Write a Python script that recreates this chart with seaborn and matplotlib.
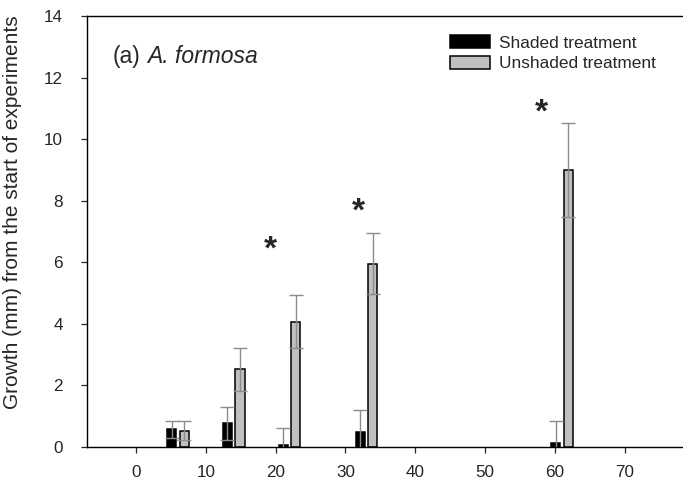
import matplotlib
matplotlib.use("Agg")
import matplotlib.pyplot as plt
import seaborn as sns
import pandas as pd
import numpy as np

# ---- data ----
days = [6, 14, 22, 33, 61]
shaded_mean = [0.58, 0.77, 0.05, 0.49, 0.13]
shaded_se = [0.28, 0.54, 0.57, 0.70, 0.72]
unshaded_mean = [0.53, 2.52, 4.07, 5.96, 8.99]
unshaded_se = [0.30, 0.69, 0.86, 1.00, 1.52]
treatments = ["Shaded treatment", "Unshaded treatment"]
star_x = [19.2, 31.8, 58.05]
star_y = [6.4, 7.63, 10.84]
x_ticks = [0, 10, 20, 30, 40, 50, 60, 70]
y_ticks = [0, 2, 4, 6, 8, 10, 12, 14]
title_text = "(a)"
title_species = "A. formosa"
y_label = "Growth (mm) from the start of experiments"

df = pd.DataFrame({
    "day": days * 2,
    "growth": shaded_mean + unshaded_mean,
    "treatment": [treatments[0]] * len(days) + [treatments[1]] * len(days),
})

sns.set_style("ticks")
plt.rcParams["font.family"] = ["Liberation Sans", "DejaVu Sans"]

fig = plt.figure(figsize=(6.83, 4.82), dpi=100)
W, H = 683, 482
ax = fig.add_axes([87 / W, (H - 447) / H, 607.8 / W, 431 / H])

sns.barplot(data=df, x="day", y="growth", hue="treatment", native_scale=True,
            palette=["#000000", "#c0c0c0"], width=0.45, gap=0.28, dodge=True,
            edgecolor="black", linewidth=1.1, errorbar=None, ax=ax, zorder=2)

off = 0.9
xs_sh = np.array(days) - off
xs_un = np.array(days) + off
for xs, m, e in [(xs_sh, shaded_mean, shaded_se), (xs_un, unshaded_mean, unshaded_se)]:
    ax.errorbar(xs, m, yerr=e, fmt="none", ecolor="#8c8c8c", elinewidth=1.0,
                capsize=4.7, capthick=1.0, zorder=3)

for sx, sy in zip(star_x, star_y):
    ax.text(sx, sy, "*", ha="center", va="center", fontsize=24, fontweight="bold")

ax.set_xlim(-7, 80)
ax.set_ylim(0, 14)
ax.set_xticks(x_ticks)
ax.set_yticks(y_ticks)
ax.set_xlabel("")
ax.set_ylabel(y_label, fontsize=15)
ax.yaxis.set_label_coords(-0.107, 0.545)
ax.tick_params(axis="both", labelsize=12.3, direction="out", length=4.3, width=0.9)
ax.tick_params(axis="y", pad=13)
ax.tick_params(axis="x", pad=9)
for s in ["left", "bottom", "top"]:
    ax.spines[s].set_visible(True)
    ax.spines[s].set_linewidth(1.0)
    ax.spines[s].set_color("black")
ax.spines["right"].set_visible(False)

t1 = ax.text(0.042, 0.905, title_text, transform=ax.transAxes, fontsize=16.5,
             ha="left", va="center")
ax.annotate(title_species, xy=(1, 0), xycoords=t1, xytext=(4.6, 0),
            textcoords="offset points", fontsize=16.5, fontstyle="italic",
            ha="left", va="bottom")

leg = ax.legend(loc="upper left", bbox_to_anchor=(0.598, 0.955), frameon=False,
                fontsize=12.4, handlelength=2.28, handleheight=0.78,
                handletextpad=0.52, labelspacing=0.3, borderpad=0, borderaxespad=0,
                title=None)
for p in leg.get_patches():
    p.set_edgecolor("black")
    p.set_linewidth(1.1)

fig.savefig("out.png", dpi=100)
